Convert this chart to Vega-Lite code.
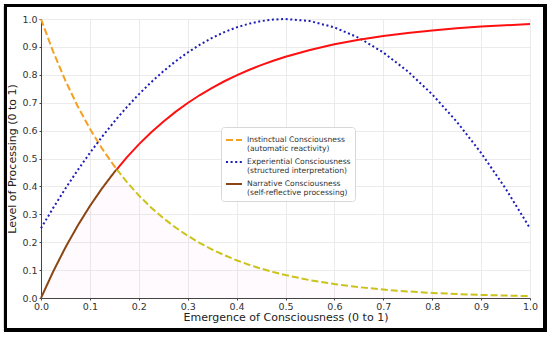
{
  "$schema": "https://vega.github.io/schema/vega-lite/v6.json",
  "width": 489,
  "height": 279,
  "autosize": {"type": "none"},
  "padding": {"left": 41, "top": 19, "right": 20, "bottom": 39},
  "background": "white",
  "config": {
    "font": "DejaVu Sans",
    "view": {"stroke": null},
    "axis": {
      "labelFont": "DejaVu Sans",
      "titleFont": "DejaVu Sans",
      "labelFontSize": 9.5,
      "labelColor": "#333333",
      "titleFontSize": 11,
      "titleFontWeight": "normal",
      "titleColor": "#222222",
      "domainColor": "#444444",
      "domainWidth": 1,
      "tickColor": "#444444",
      "tickSize": 2,
      "gridColor": "#e6e6e6",
      "gridWidth": 0.8,
      "labelOverlap": false
    },
    "legend": {
      "labelFont": "DejaVu Sans"
    }
  },
  "data": {
    "values": [
      {"x": 0, "Instinctual": 1, "Experiential": 0.25, "Narrative": 0, "low": 0},
      {"x": 0.025, "Instinctual": 0.8825, "Experiential": 0.3231, "Narrative": 0.0952, "low": 0.0952},
      {"x": 0.05, "Instinctual": 0.7788, "Experiential": 0.3925, "Narrative": 0.1813, "low": 0.1813},
      {"x": 0.075, "Instinctual": 0.6873, "Experiential": 0.4581, "Narrative": 0.2592, "low": 0.2592},
      {"x": 0.1, "Instinctual": 0.6065, "Experiential": 0.52, "Narrative": 0.3297, "low": 0.3297},
      {"x": 0.125, "Instinctual": 0.5353, "Experiential": 0.5781, "Narrative": 0.3935, "low": 0.3935},
      {"x": 0.15, "Instinctual": 0.4724, "Experiential": 0.6325, "Narrative": 0.4512, "low": 0.4512},
      {"x": 0.155, "Instinctual": 0.461, "Experiential": 0.6429, "Narrative": 0.461, "low": 0.461},
      {"x": 0.175, "Instinctual": 0.4169, "Experiential": 0.6831, "Narrative": 0.5034, "low": 0.4169},
      {"x": 0.2, "Instinctual": 0.3679, "Experiential": 0.73, "Narrative": 0.5507, "low": 0.3679},
      {"x": 0.225, "Instinctual": 0.3247, "Experiential": 0.7731, "Narrative": 0.5934, "low": 0.3247},
      {"x": 0.25, "Instinctual": 0.2865, "Experiential": 0.8125, "Narrative": 0.6321, "low": 0.2865},
      {"x": 0.275, "Instinctual": 0.2528, "Experiential": 0.8481, "Narrative": 0.6671, "low": 0.2528},
      {"x": 0.3, "Instinctual": 0.2231, "Experiential": 0.88, "Narrative": 0.6988, "low": 0.2231},
      {"x": 0.325, "Instinctual": 0.1969, "Experiential": 0.9081, "Narrative": 0.7275, "low": 0.1969},
      {"x": 0.35, "Instinctual": 0.1738, "Experiential": 0.9325, "Narrative": 0.7534, "low": 0.1738},
      {"x": 0.375, "Instinctual": 0.1534, "Experiential": 0.9531, "Narrative": 0.7769, "low": 0.1534},
      {"x": 0.4, "Instinctual": 0.1353, "Experiential": 0.97, "Narrative": 0.7981, "low": 0.1353},
      {"x": 0.425, "Instinctual": 0.1194, "Experiential": 0.9831, "Narrative": 0.8173, "low": 0.1194},
      {"x": 0.45, "Instinctual": 0.1054, "Experiential": 0.9925, "Narrative": 0.8347, "low": 0.1054},
      {"x": 0.475, "Instinctual": 0.093, "Experiential": 0.9981, "Narrative": 0.8504, "low": 0.093},
      {"x": 0.5, "Instinctual": 0.0821, "Experiential": 1, "Narrative": 0.8647, "low": 0.0821},
      {"x": 0.55, "Instinctual": 0.0639, "Experiential": 0.9925, "Narrative": 0.8892, "low": 0.0639},
      {"x": 0.6, "Instinctual": 0.0498, "Experiential": 0.97, "Narrative": 0.9093, "low": 0.0498},
      {"x": 0.65, "Instinctual": 0.0388, "Experiential": 0.9325, "Narrative": 0.9257, "low": 0.0388},
      {"x": 0.7, "Instinctual": 0.0302, "Experiential": 0.88, "Narrative": 0.9392, "low": 0.0302},
      {"x": 0.75, "Instinctual": 0.0235, "Experiential": 0.8125, "Narrative": 0.9502, "low": 0.0235},
      {"x": 0.8, "Instinctual": 0.0183, "Experiential": 0.73, "Narrative": 0.9592, "low": 0.0183},
      {"x": 0.85, "Instinctual": 0.0143, "Experiential": 0.6325, "Narrative": 0.9666, "low": 0.0143},
      {"x": 0.9, "Instinctual": 0.0111, "Experiential": 0.52, "Narrative": 0.9727, "low": 0.0111},
      {"x": 0.95, "Instinctual": 0.0087, "Experiential": 0.3925, "Narrative": 0.9776, "low": 0.0087},
      {"x": 1.0, "Instinctual": 0.0067, "Experiential": 0.25, "Narrative": 0.9817, "low": 0.0067}
    ]
  },
  "layer": [
    {
      "mark": {"type": "area", "color": "#ff66cc", "opacity": 0.035},
      "encoding": {
        "x": {
          "field": "x", "type": "quantitative",
          "scale": {"domain": [0, 1], "nice": false, "zero": false},
          "axis": {"title": "Emergence of Consciousness (0 to 1)", "values": [0,0.1,0.2,0.3,0.4,0.5,0.6,0.7,0.8,0.9,1.0], "format": ".1f", "labelPadding": 1, "titlePadding": 1, "labelFlush": false}
        },
        "y": {
          "field": "low", "type": "quantitative",
          "scale": {"domain": [0, 1], "nice": false},
          "axis": {"title": "Level of Processing (0 to 1)", "values": [0,0.1,0.2,0.3,0.4,0.5,0.6,0.7,0.8,0.9,1.0], "tickCount": 11, "format": ".1f", "labelPadding": 2, "titlePadding": 4, "labelFlush": false, "labelOverlap": false}
        }
      }
    },
    {
      "transform": [
        {"fold": ["Instinctual", "Experiential", "Narrative"], "as": ["series", "y"]},
        {"filter": "datum.series == 'Experiential' || datum.x <= 0.155"}
      ],
      "mark": {"type": "line", "strokeWidth": 2},
      "encoding": {
        "x": {"field": "x", "type": "quantitative"},
        "y": {"field": "y", "type": "quantitative", "axis": {"title": "Level of Processing (0 to 1)", "values": [0,0.1,0.2,0.3,0.4,0.5,0.6,0.7,0.8,0.9,1.0], "tickCount": 11, "format": ".1f", "labelPadding": 2, "titlePadding": 4, "labelFlush": false, "labelOverlap": false}},
        "color": {
          "field": "series", "type": "nominal",
          "scale": {"domain": ["Instinctual", "Experiential", "Narrative"], "range": ["#f5a020", "#1c1cb8", "#8b4513"]},
          "legend": {
            "title": null,
            "orient": "none",
            "legendX": 180,
            "legendY": 108,
            "padding": 4,
            "strokeColor": "#d8d8d8",
            "fillColor": "white",
            "cornerRadius": 3,
            "symbolType": "stroke",
            "symbolSize": 256,
            "symbolStrokeWidth": 2,
            "labelFontSize": 7.6,
            "labelColor": "#333333",
            "labelLimit": 300,
            "labelOffset": 4,
            "rowPadding": -10,
            "labelExpr": "datum.label == 'Instinctual' ? ['Instinctual Consciousness', '(automatic reactivity)'] : datum.label == 'Experiential' ? ['Experiential Consciousness', '(structured interpretation)'] : ['Narrative Consciousness', '(self-reflective processing)']",
            "encode": {"labels": {"update": {"lineHeight": {"value": 8.6}}}}
          }
        },
        "strokeDash": {
          "field": "series", "type": "nominal",
          "scale": {"domain": ["Instinctual", "Experiential", "Narrative"], "range": [[7, 3], [2, 2.6], [1, 0]]},
          "legend": {"title": null}
        }
      }
    },
    {
      "transform": [{"filter": "datum.x >= 0.155"}],
      "mark": {"type": "line", "strokeWidth": 2, "color": "#cbc31a", "strokeDash": [7, 3]},
      "encoding": {
        "x": {"field": "x", "type": "quantitative"},
        "y": {"field": "Instinctual", "type": "quantitative"}
      }
    },
    {
      "transform": [{"filter": "datum.x >= 0.155"}],
      "mark": {"type": "line", "strokeWidth": 2, "color": "#ff1010"},
      "encoding": {
        "x": {"field": "x", "type": "quantitative"},
        "y": {"field": "Narrative", "type": "quantitative"}
      }
    },
    {
      "mark": {"type": "rect", "fill": null, "stroke": "black", "strokeWidth": 3},
      "encoding": {
        "x": {"datum": -0.0726, "type": "quantitative"},
        "x2": {"datum": 1.0307},
        "y": {"datum": 1.0484, "type": "quantitative"},
        "y2": {"datum": -0.1147}
      }
    }
  ]
}
